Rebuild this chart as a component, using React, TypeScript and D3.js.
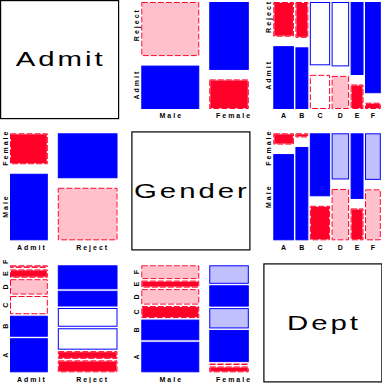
import React from "react";
import * as d3 from "d3";

// ---- data (UC Berkeley admissions) ----
const varNames = ["Admit", "Gender", "Dept"];
const admitLevels = ["Admit", "Reject"];
const genderLevels = ["Male", "Female"];
const deptLevels = ["A", "B", "C", "D", "E", "F"];
const maleAdmitted = [512, 353, 120, 138, 53, 22];
const maleRejected = [313, 207, 205, 279, 138, 351];
const femaleAdmitted = [89, 17, 202, 131, 94, 24];
const femaleRejected = [19, 8, 391, 244, 299, 317];

const levelsOf = [admitLevels, genderLevels, deptLevels];

function count(a: number, g: number, d: number): number {
  const arr = g === 0 ? (a === 0 ? maleAdmitted : maleRejected) : (a === 0 ? femaleAdmitted : femaleRejected);
  return arr[d];
}

function table2(xv: number, yv: number): number[][] {
  const t = levelsOf[xv].map(() => levelsOf[yv].map(() => 0));
  for (let a = 0; a < 2; a++)
    for (let g = 0; g < 2; g++)
      for (let d = 0; d < 6; d++) {
        const idx = [a, g, d];
        t[idx[xv]][idx[yv]] += count(a, g, d);
      }
  return t;
}

const BLUE = "#0000ff";
const RED = "#ff0028";
const PINK = "#ffc0cb";
const LBLUE = "#c0c0ff";
const FONT = "'Liberation Sans', Arial, Helvetica, sans-serif";

const cellOff = [0, 131.3, 263.3];
const BOX = 118;

function Tile({ x, y, w, h, r }: { x: number; y: number; w: number; h: number; r: number }) {
  const a = Math.abs(r);
  const pos = r >= 0;
  const fill = a > 4 ? (pos ? BLUE : RED) : a > 2 ? (pos ? LBLUE : PINK) : "#ffffff";
  if (pos) {
    return (
      <rect x={x + 0.5} y={y + 0.5} width={Math.max(0, w - 1)} height={Math.max(0, h - 1)}
        fill={fill} stroke={BLUE} strokeWidth={1} />
    );
  }
  return (
    <g>
      <rect x={x + 1} y={y + 1} width={Math.max(0, w - 2)} height={Math.max(0, h - 2)} fill={fill} />
      <rect x={x + 0.5} y={y + 0.5} width={Math.max(0, w - 1)} height={Math.max(0.01, h - 1)}
        fill="none" stroke={RED} strokeWidth={1} strokeDasharray="6,2" />
    </g>
  );
}

function Panel({ row, col }: { row: number; col: number }) {
  const xv = col, yv = row;
  const t = table2(xv, yv);
  const xl = levelsOf[xv], yl = levelsOf[yv];
  const nx = xl.length, ny = yl.length;
  const gapX = nx === 2 ? 10 : 1.5;
  const gapY = ny === 2 ? 9.5 : 1.5;
  const ox = cellOff[col], oy = cellOff[row];
  const x0 = ox + 10, x1 = ox + 117.5, y0 = oy + 2, y1 = oy + 109;
  const colTot = t.map(c => d3.sum(c));
  const rowTot = yl.map((_, j) => d3.sum(t, c => c[j]));
  const N = d3.sum(colTot);
  const xScale = d3.scaleLinear().domain([0, N]).range([0, x1 - x0 - gapX * (nx - 1)]);
  const H = y1 - y0 - gapY * (ny - 1);

  const tiles: any[] = [];
  const colCenters: number[] = [];
  const firstColCenters: number[] = [];
  let cum = 0;
  t.forEach((c, i) => {
    const left = x0 + xScale(cum) + i * gapX;
    const w = xScale(colTot[i]);
    colCenters.push(left + w / 2);
    cum += colTot[i];
    const yScale = d3.scaleLinear().domain([0, colTot[i]]).range([0, H]);
    let cy = 0;
    c.forEach((o, j) => {
      const bottom = y1 - yScale(cy) - j * gapY;
      const h = yScale(o);
      cy += o;
      const e = (colTot[i] * rowTot[j]) / N;
      const r = (o - e) / Math.sqrt(e);
      if (i === 0) firstColCenters.push(bottom - h / 2);
      tiles.push(<Tile key={`${i}-${j}`} x={left} y={bottom - h} w={w} h={h} r={r} />);
    });
  });

  // y label placement (rotated), with clamping and collision avoidance
  const lens = yl.map(s => s.length * 5.8);
  const centers: number[] = [];
  yl.forEach((s, j) => {
    let c = firstColCenters[j] - Math.max(0, s.length - 4) * 1.7;
    c = Math.max(c, oy + lens[j] / 2);
    if (j > 0) c = Math.min(c, centers[j - 1] - (lens[j - 1] / 2 + lens[j] / 2 + 6));
    centers.push(c);
  });

  const small = { fontFamily: FONT, fontSize: 7, fontWeight: 700, letterSpacing: 2, fill: "#000" } as any;
  return (
    <g>
      {tiles}
      {xl.map((s, i) => (
        <text key={"x" + i} x={colCenters[i] + Math.max(0, s.length - 4) * 2 + 1} y={oy + 118.3}
          textAnchor="middle" {...small}>{s}</text>
      ))}
      {yl.map((s, j) => (
        <text key={"y" + j} transform={`translate(${ox + 7.5},${centers[j] - 1}) rotate(-90)`}
          textAnchor="middle" {...small}>{s}</text>
      ))}
    </g>
  );
}

export default function App() {
  const cells: any[] = [];
  for (let r = 0; r < 3; r++)
    for (let c = 0; c < 3; c++) {
      if (r === c) {
        const o = cellOff[r];
        cells.push(
          <g key={`d${r}`}>
            <rect x={o + 0.6} y={o + 0.6} width={BOX} height={BOX} fill="#fff" stroke="#000" strokeWidth={1.2} />
            <text transform={`translate(${o + 0.6 + BOX / 2 + 1},${o + 0.6 + BOX / 2 + 6.6}) scale(1.4,1)`}
              textAnchor="middle" fontFamily={FONT} fontSize={21} letterSpacing={2.1} fill="#000">
              {varNames[r]}
            </text>
          </g>
        );
      } else {
        cells.push(<Panel key={`p${r}${c}`} row={r} col={c} />);
      }
    }
  return (
    <svg width={382} height={383} style={{ position: "absolute", left: 0, top: 0, background: "#fff" }}>
      <rect width={382} height={383} fill="#fff" />
      {cells}
    </svg>
  );
}
